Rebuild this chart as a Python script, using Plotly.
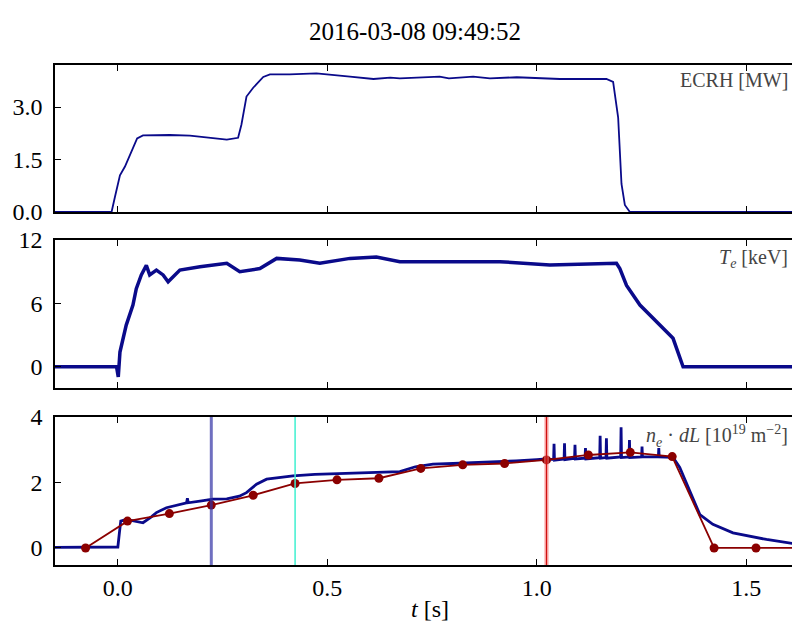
import plotly.graph_objects as go

# ECRH heating power [MW]
ecrh_t = [-0.15, -0.015, -0.007, 0.005, 0.017, 0.033, 0.046, 0.06, 0.124, 0.172, 0.228, 0.26,
          0.287, 0.295, 0.307, 0.323, 0.347, 0.363, 0.41, 0.474, 0.554, 0.61, 0.65, 0.673,
          0.768, 0.79, 0.848, 0.888, 0.952, 1.055, 1.166, 1.182, 1.194, 1.202, 1.21, 1.222, 1.63]
ecrh_v = [0.0, 0.0, 0.43, 1.05, 1.3, 1.77, 2.1, 2.19, 2.2, 2.18, 2.1, 2.07,
          2.12, 2.5, 3.3, 3.55, 3.86, 3.93, 3.93, 3.96, 3.87, 3.8, 3.84, 3.82,
          3.87, 3.82, 3.87, 3.82, 3.85, 3.8, 3.8, 3.72, 2.7, 0.8, 0.2, 0.0, 0.0]

# electron temperature [keV]
te_t = [-0.15, -0.003, 0.001, 0.005, 0.02, 0.036, 0.044, 0.056, 0.068, 0.076, 0.092, 0.108,
        0.12, 0.148, 0.196, 0.26, 0.291, 0.339, 0.379, 0.434, 0.482, 0.554, 0.617, 0.673,
        0.768, 0.912, 1.031, 1.19, 1.198, 1.214, 1.246, 1.294, 1.325, 1.349, 1.63]
te_v = [0.0, 0.0, -0.95, 1.4, 3.95, 5.84, 7.4, 8.7, 9.6, 8.7, 9.15, 8.7,
        8.05, 9.15, 9.47, 9.8, 9.0, 9.3, 10.26, 10.1, 9.8, 10.26, 10.4, 9.95,
        9.95, 9.95, 9.63, 9.8, 9.3, 7.7, 5.85, 3.95, 2.7, 0.0, 0.0]

# line integrated density [1e19 m^-2]
ne_t = [-0.15, -0.05, 0.0, 0.004, 0.007, 0.02, 0.04, 0.06, 0.08, 0.092, 0.116, 0.14,
        0.164, 0.166, 0.168, 0.2, 0.227, 0.26, 0.29, 0.307, 0.331, 0.355, 0.39, 0.418,
        0.47, 0.514, 0.6, 0.673, 0.71, 0.752, 0.8, 0.872, 0.95, 1.0, 1.022,
        1.04, 1.041, 1.042, 1.065, 1.066, 1.067, 1.09, 1.091, 1.092, 1.115, 1.116, 1.117,
        1.15, 1.151, 1.152, 1.165, 1.166, 1.167, 1.2, 1.201, 1.202, 1.22, 1.221, 1.222,
        1.25, 1.251, 1.252, 1.29, 1.291, 1.292, 1.325, 1.341, 1.365, 1.389, 1.42, 1.468,
        1.548, 1.63]
ne_v = [0.02, 0.03, 0.03, 0.5, 0.82, 0.87, 0.82, 0.77, 0.95, 1.08, 1.23, 1.3,
        1.38, 1.52, 1.38, 1.44, 1.49, 1.5, 1.58, 1.69, 1.95, 2.1, 2.16, 2.2,
        2.25, 2.27, 2.3, 2.33, 2.48, 2.56, 2.58, 2.61, 2.66, 2.7, 2.72,
        2.7, 3.18, 2.68, 2.72, 3.2, 2.7, 2.74, 3.15, 2.72, 2.74, 3.05, 2.72,
        2.76, 3.43, 2.74, 2.76, 3.35, 2.74, 2.78, 3.69, 2.76, 2.78, 3.3, 2.76,
        2.78, 3.1, 2.78, 2.78, 3.05, 2.78, 2.77, 2.46, 1.74, 1.02, 0.72, 0.46,
        0.26, 0.1]

# reconstructed density points
fit_t = [-0.077, 0.023, 0.123, 0.223, 0.323, 0.423, 0.523, 0.623, 0.723, 0.823,
         0.923, 1.023, 1.123, 1.223, 1.323, 1.423, 1.523, 1.623]
fit_v = [0.0, 0.82, 1.05, 1.31, 1.61, 1.97, 2.08, 2.13, 2.43, 2.54,
         2.58, 2.69, 2.84, 2.92, 2.79, 0.0, 0.0, 0.0]

# marked time slices
mark_t = [0.223, 0.423, 1.023]

navy = "#0a0a8a"
font = "Liberation Serif"
W, H = 800, 631
OFF = 8  # page body margin shifts the figure by 8px


def py(y):
    # screenshot pixel row -> paper fraction
    return 1 - (y - OFF) / H


fig = go.Figure()
fig.add_trace(go.Scatter(x=ecrh_t, y=ecrh_v, mode="lines", line=dict(color=navy, width=1.8),
                         xaxis="x", yaxis="y"))
fig.add_trace(go.Scatter(x=te_t, y=te_v, mode="lines", line=dict(color=navy, width=3.5),
                         xaxis="x2", yaxis="y2"))
fig.add_trace(go.Scatter(x=ne_t, y=ne_v, mode="lines", line=dict(color=navy, width=2.8),
                         xaxis="x3", yaxis="y3"))
fig.add_trace(go.Scatter(x=fit_t, y=fit_v, mode="lines+markers",
                         line=dict(color="#8b0000", width=1.8),
                         marker=dict(color="#8b0000", size=9),
                         xaxis="x3", yaxis="y3", cliponaxis=False))

# vertical markers in the density panel
fig.add_shape(type="line", x0=mark_t[0], x1=mark_t[0], y0=0, y1=1, xref="x3", yref="y3 domain",
              line=dict(color="rgba(50,50,165,0.7)", width=3))
fig.add_shape(type="line", x0=mark_t[1], x1=mark_t[1], y0=0, y1=1, xref="x3", yref="y3 domain",
              line=dict(color="#3ff0d0", width=1.5))
fig.add_shape(type="line", x0=mark_t[2], x1=mark_t[2], y0=0, y1=1, xref="x3", yref="y3 domain",
              line=dict(color="rgba(255,140,140,0.45)", width=5))
fig.add_shape(type="line", x0=mark_t[2], x1=mark_t[2], y0=0, y1=1, xref="x3", yref="y3 domain",
              line=dict(color="#d01010", width=1.5))

xax = dict(range=[-0.15, 1.628], tickvals=[0, 0.5, 1.0, 1.5], ticks="inside", ticklen=6,
           tickcolor="black", showline=True, linecolor="black", linewidth=1.5,
           mirror="ticks", showgrid=False, zeroline=False, automargin=False)
yax = dict(ticks="inside", ticklen=6, tickcolor="black", showline=True, linecolor="black",
           linewidth=1.5, showgrid=False, zeroline=False, automargin=False,
           ticklabelstandoff=6, tickfont=dict(family=font, size=24, color="black"))

doms = [(py(212), py(65)), (py(388), py(240)), (py(565), py(417))]

fig.update_layout(
    width=W, height=H,
    margin=dict(l=55 - OFF, r=OFF, t=0, b=0),
    paper_bgcolor="white", plot_bgcolor="white",
    showlegend=False,
    title=dict(text="2016-03-08 09:49:52", x=(415 - OFF) / W, xref="container",
               xanchor="center", y=py(31), yref="container", yanchor="middle",
               font=dict(family=font, size=25, color="black")),
    xaxis=dict(xax, anchor="y", showticklabels=False),
    xaxis2=dict(xax, anchor="y2", matches="x", showticklabels=False),
    xaxis3=dict(xax, anchor="y3", matches="x", ticklabelstandoff=0,
                tickfont=dict(family=font, size=24, color="black"), tickformat=".1f"),
    yaxis=dict(yax, domain=doms[0], anchor="x", range=[0, 4.2], tickvals=[0, 1.5, 3.0],
               tickformat=".1f"),
    yaxis2=dict(yax, domain=doms[1], anchor="x2", range=[-2, 12], tickvals=[0, 6, 12]),
    yaxis3=dict(yax, domain=doms[2], anchor="x3", range=[-0.52, 4], tickvals=[0, 2, 4]),
)

ann = dict(xref="paper", yref="paper", x=(790 - 55) / 745, xanchor="right", yanchor="middle",
           showarrow=False, font=dict(family=font, size=20, color="#444444"))
fig.add_annotation(ann, text="ECRH [MW]", y=py(80))
fig.add_annotation(ann, text="<i>T<sub>e</sub></i> [keV]", y=py(258))
fig.add_annotation(ann, text="<i>n<sub>e</sub></i> · <i>dL</i> [10<sup>19</sup> m<sup>−2</sup>]",
                   y=py(436))
fig.add_annotation(text="<i>t</i> [s]", xref="paper", yref="paper", x=(430 - 55) / 745,
                   y=py(609), xanchor="center", yanchor="middle", showarrow=False,
                   font=dict(family=font, size=24, color="black"))

fig.write_html("out.html")
